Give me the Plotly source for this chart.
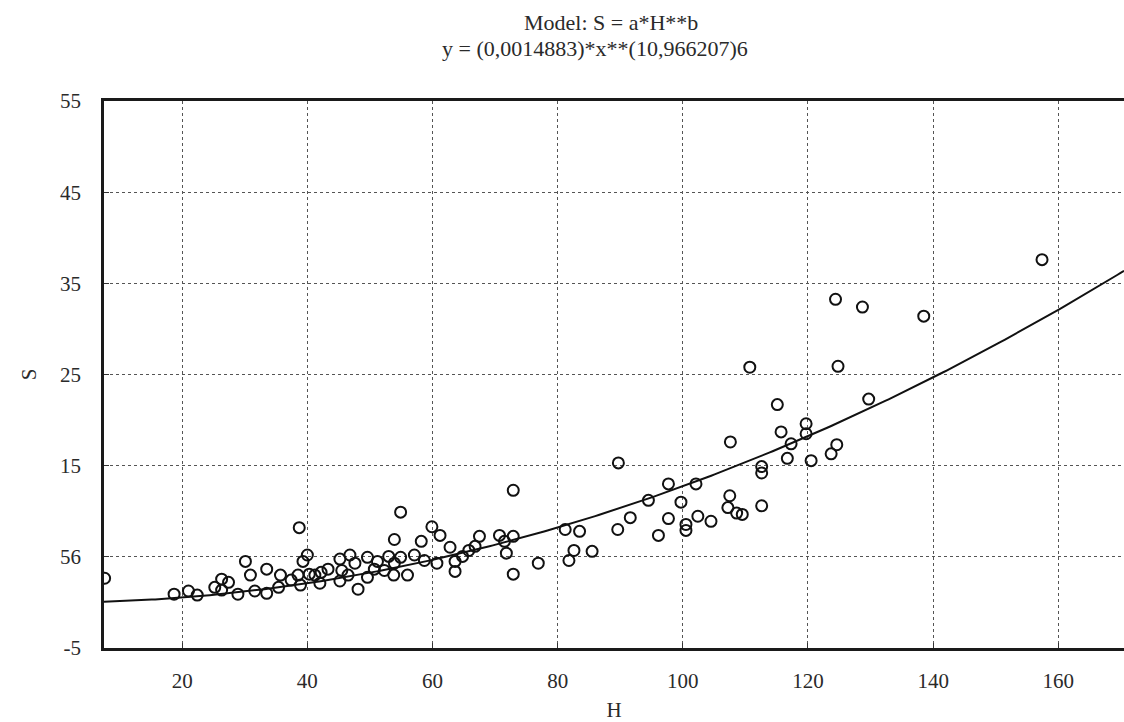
import numpy as np
import plotly.graph_objects as go

# Model parameters from the title: S = a*H**b
a_param = 0.0014883
b_param = 1.9662076

H_values = [
    7.6, 18.7, 21.0, 22.4, 25.2, 26.3, 27.4, 26.3, 28.9, 30.1, 30.9, 31.6, 33.5, 33.5, 35.7, 35.4,
    38.7, 40.0, 39.3, 37.4, 38.5, 38.9, 40.3, 41.2, 42.2, 43.3, 42.0, 45.2, 46.8, 45.5, 47.6, 46.5,
    45.2, 48.1, 49.6, 49.6, 51.2, 50.7, 52.3, 53.0, 53.9, 53.8, 54.9, 56.0, 53.9, 54.9, 57.1, 58.2,
    58.7, 59.9, 61.2, 60.7, 62.8, 63.6, 63.6,
    64.8, 65.8, 66.8, 67.5, 70.7, 71.5, 71.8, 72.9, 72.9, 72.9, 76.9, 81.2, 83.5, 82.6, 81.8, 85.5,
    89.6, 91.6, 89.7,
    94.5, 96.1, 97.7, 97.7, 99.7, 100.5, 100.5, 102.1, 102.4, 104.5, 107.2, 107.5, 107.6, 108.6,
    109.5, 110.7, 112.6, 112.6, 112.6, 115.1, 115.7, 116.7, 117.3, 119.7, 119.7, 120.5, 123.7,
    124.6, 124.4, 124.8, 128.7, 129.7, 138.5, 157.4,
]
S_values = [
    2.65, 0.9, 1.25, 0.8, 1.65, 2.55, 2.2, 1.35, 0.9, 4.5, 3.0, 1.25, 3.65, 1.0, 3.0, 1.65,
    8.2, 5.2, 4.5, 2.45, 3.0, 1.9, 3.1, 3.0, 3.3, 3.65, 2.1, 4.75, 5.2, 3.5, 4.3, 3.0,
    2.35, 1.45, 4.95, 2.75, 4.5, 3.65, 3.5, 5.05, 4.3, 3.0, 4.95, 3.0, 6.9, 9.9, 5.2, 6.7,
    4.6, 8.3, 7.35, 4.3, 6.05, 4.5, 3.4,
    5.05, 5.7, 6.15, 7.25, 7.35, 6.7, 5.4, 7.25, 3.1, 12.3, 4.3, 8.0, 7.8, 5.7, 4.6, 5.6,
    8.0, 9.3, 15.3,
    11.2, 7.35, 13.0, 9.2, 11.0, 8.55, 7.9, 13.0, 9.45, 8.9, 10.4, 11.7, 17.6, 9.8,
    9.65, 25.8, 14.9, 14.2, 10.6, 21.7, 18.7, 15.8, 17.4, 19.6, 18.5, 15.55, 16.3,
    17.3, 33.25, 25.9, 32.4, 22.3, 31.4, 37.6,
]

x_ticks = [20, 40, 60, 80, 100, 120, 140, 160]
y_ticks = [-5, 5, 15, 25, 35, 45, 55]
y_tick_labels = ["-5", "56", "15", "25", "35", "45", "55"]

title_line1 = "Model: S = a*H**b"
title_line2 = "y = (0,0014883)*x**(10,966207)6"

x_range = [7.5, 170.5]
y_range = [-5, 55]

curve_x = np.linspace(x_range[0], x_range[1], 300)
curve_y = a_param * curve_x ** b_param

font_family = "Liberation Serif, Times New Roman, serif"
text_color = "#2a2a2a"

fig = go.Figure()
fig.add_trace(go.Scatter(
    x=curve_x, y=curve_y, mode="lines",
    line=dict(color="#111", width=2), showlegend=False, hoverinfo="skip",
))
fig.add_trace(go.Scatter(
    x=H_values, y=S_values, mode="markers",
    marker=dict(symbol="circle-open", size=11, color="#111", line=dict(width=2, color="#111")),
    showlegend=False, cliponaxis=True,
))

fig.add_annotation(text=title_line1, xref="paper", yref="paper", x=0.497, y=1.1439,
                   xanchor="center", yanchor="middle", showarrow=False,
                   font=dict(family=font_family, size=22, color=text_color))
fig.add_annotation(text=title_line2, xref="paper", yref="paper", x=0.481, y=1.0965,
                   xanchor="center", yanchor="middle", showarrow=False,
                   font=dict(family=font_family, size=22, color=text_color))

fig.update_layout(
    width=1124, height=722,
    margin=dict(l=104, r=0, t=101, b=72),
    paper_bgcolor="white", plot_bgcolor="white",
    font=dict(family=font_family, size=20, color=text_color),
    xaxis=dict(
        range=x_range, tickvals=x_ticks, ticks="inside", ticklen=5, tickcolor="#333",
        showline=True, linecolor="#1a1a1a", linewidth=2.5, mirror=True,
        showgrid=True, gridcolor="#555", griddash="dot", gridwidth=1,
        zeroline=False, title=dict(text="H", font=dict(size=21), standoff=14),
        tickfont=dict(size=21), ticklabelstandoff=12,
    ),
    yaxis=dict(
        range=y_range, tickvals=y_ticks, ticktext=y_tick_labels, ticks="inside", ticklen=5,
        tickcolor="#333",
        showline=True, linecolor="#1a1a1a", linewidth=2.5, mirror=False,
        showgrid=True, gridcolor="#555", griddash="dot", gridwidth=1,
        zeroline=False, title=dict(text="S", font=dict(size=21), standoff=18),
        tickfont=dict(size=21), ticklabelstandoff=16,
    ),
)

fig.write_html(
    "out.html",
    config={"displayModeBar": False},
    post_script="document.body.style.margin='0';document.body.style.overflow='hidden';",
)
